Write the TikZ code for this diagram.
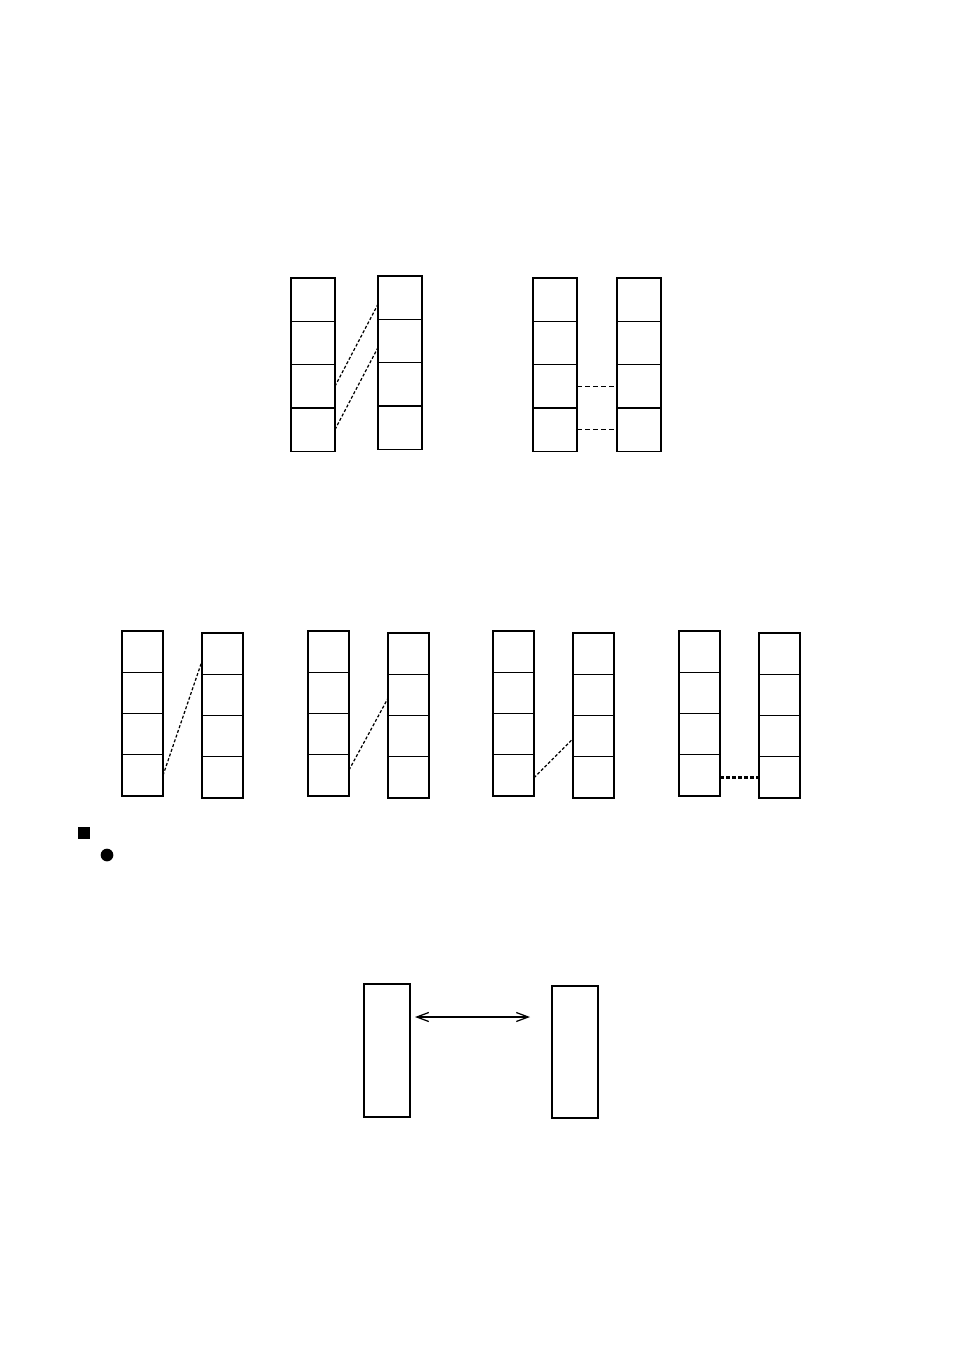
\documentclass[tikz,border=0pt]{standalone}
\usepackage{tikz}
\usetikzlibrary{arrows.meta,calc,positioning}

\tikzset{
	cellbig/.style={draw, line width=0.4pt, minimum width=4.4mm, minimum height=4.33mm, inner sep=0pt, outer sep=0pt},
	cellsmall/.style={draw, line width=0.4pt, minimum width=4.1mm, minimum height=4.12mm, inner sep=0pt, outer sep=0pt},
	bar/.style={draw, line width=0.8pt, minimum width=4.6mm, inner sep=0pt, outer sep=0pt},
	link/.style={line width=0.35pt, dash pattern=on 0.3mm off 0.2mm},
	linkflat/.style={line width=0.35pt, dash pattern=on 0.5mm off 0.3mm},
	linkbold/.style={line width=0.7pt, dash pattern=on 0.4mm off 0.2mm}
}

\begin{document}
\begin{tikzpicture}[x=0.1mm,y=-0.1mm]
		\useasboundingbox (0,0) rectangle (954,1350);
		% upper pair of stacks
		\foreach \s/\x/\y in {a/313/278,b/400/276,c/555/278,d/639/278}
			\foreach \i in {1,...,4} \node[cellbig] (\s\i) at (\x,{\y+43.3*(\i-0.5)}) {};
		\draw[link] (a3.east) -- ($(b1.north west)!0.65!(b1.south west)$);
		\draw[link] (a4.east) -- ($(b2.north west)!0.65!(b2.south west)$);
		\draw[linkflat] (c3.east) -- (d3.west);
		\draw[linkflat] (c4.east) -- (d4.west);
		% middle row of stacks
		\foreach \s/\x/\y in {e/142.5/631,f/222.5/633,g/328.5/631,h/408.5/633,k/513.5/631,l/593.5/633,m/699.5/631,n/779.5/633}
			\foreach \i in {1,...,4} \node[cellsmall] (\s\i) at (\x,{\y+41.25*(\i-0.5)}) {};
		\draw[link] (e4.east) -- ($(f1.north west)!0.68!(f1.south west)$);
		\draw[link] ($(g4.north east)!0.37!(g4.south east)$) -- ($(h2.north west)!0.58!(h2.south west)$);
		\draw[link] ($(k4.north east)!0.56!(k4.south east)$) -- ($(l3.north west)!0.56!(l3.south west)$);
		\draw[linkbold] (m4.east |- n4.west) -- (n4.west);
		% markers
		\node[fill=black, minimum size=1.2mm, inner sep=0pt] (sq) at (84,833) {};
		\node[circle, fill=black, minimum size=1.27mm, inner sep=0pt] (dot) at (107,855) {};
		% lower pair
		\node[bar, minimum height=13.3mm] (lbar) at (387,1050.5) {};
		\node[bar, minimum height=13.2mm] (rbar) at (575,1052) {};
		\coordinate (arrl) at (415,1017);
		\coordinate (arrr) at (530,1017);
		\draw[{Straight Barb[length=1.2mm,width=0.9mm]}-{Straight Barb[length=1.2mm,width=0.9mm]}, line width=0.35pt] (arrl) -- (arrr);
	\end{tikzpicture}
\end{document}
